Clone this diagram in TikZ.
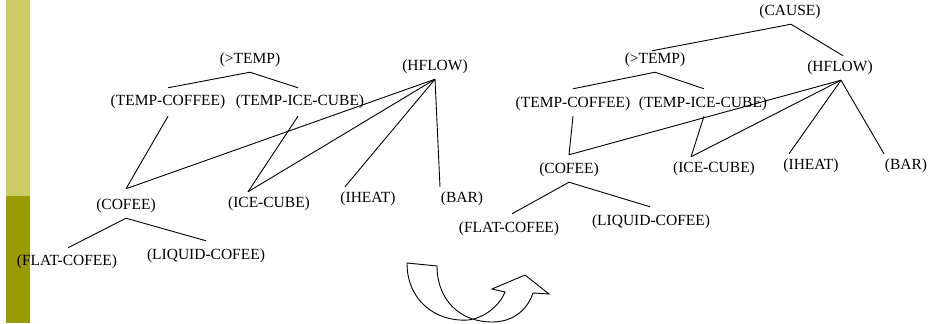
\documentclass[tikz,border=0pt]{standalone}
\usepackage{fontspec}
\setmainfont{Liberation Serif}
\begin{document}
\begin{tikzpicture}[x=1pt,y=-1pt,
  lbl/.style={inner xsep=0pt,inner ysep=5pt,font=\fontsize{15.5}{18}\selectfont},
  edge/.style={line width=0.9pt,black},
  ribbon/.style={line width=0.9pt,black,line join=miter}]
\useasboundingbox (0,0) rectangle (946,324);
\definecolor{barlight}{RGB}{204,204,102}
\definecolor{bardark}{RGB}{153,153,0}

% side bar
\fill[barlight] (6,0) rectangle (30,196);
\fill[bardark] (6,196) rectangle (30,323);

% ---------- first structure ----------
\node[lbl] (lt)  at (250,60)  {(>TEMP)};
\node[lbl] (ltc) at (168,102) {(TEMP-COFFEE)};
\node[lbl] (lti) at (300,102) {(TEMP-ICE-CUBE)};
\node[lbl] (lh)  at (435,67)  {(HFLOW)};
\node[lbl] (lc)  at (126,206) {(COFEE)};
\node[lbl] (li)  at (269,204) {(ICE-CUBE)};
\node[lbl] (lih) at (368,199) {(IHEAT)};
\node[lbl] (lb)  at (462,199) {(BAR)};
\node[lbl] (lf)  at (67,262)  {(FLAT-COFEE)};
\node[lbl] (ll)  at (206,256) {(LIQUID-COFEE)};

\draw[edge] ([yshift=2pt]ltc.north) -- (lt.south) -- ([xshift=-2pt,yshift=2pt]lti.north);
\draw[edge] ([yshift=-2pt]ltc.south) -- ([yshift=5pt]lc.north);
\draw[edge] ([xshift=-2pt,yshift=-2pt]lti.south) -- ([xshift=-21pt]li.north);
\draw[edge] ([yshift=5pt]lc.north) -- (lh.south);
\draw[edge] ([xshift=-21pt]li.north) -- (lh.south);
\draw[edge] ([xshift=-23pt]lih.north) -- (lh.south);
\draw[edge] ([xshift=-22pt]lb.north) -- (lh.south);
\draw[edge] ([xshift=1pt,yshift=2pt]lf.north) -- (lc.south) -- ([yshift=3pt]ll.north);

% ---------- second structure ----------
\node[lbl] (rca) at (790,12)  {(CAUSE)};
\node[lbl] (rt)  at (655,60)  {(>TEMP)};
\node[lbl] (rh)  at (840,68)  {(HFLOW)};
\node[lbl] (rtc) at (573,104) {(TEMP-COFFEE)};
\node[lbl] (rti) at (703,104) {(TEMP-ICE-CUBE)};
\node[lbl] (rc)  at (569,170) {(COFEE)};
\node[lbl] (ri)  at (714,169) {(ICE-CUBE)};
\node[lbl] (rih) at (811,166) {(IHEAT)};
\node[lbl] (rb)  at (906,166) {(BAR)};
\node[lbl] (rf)  at (509,229) {(FLAT-COFEE)};
\node[lbl] (rl)  at (651,222) {(LIQUID-COFEE)};

\draw[edge] ([xshift=-3pt,yshift=-3pt]rt.north) -- ([xshift=1pt]rca.south) -- ([xshift=3pt]rh.north);
\draw[edge] ([yshift=3pt]rtc.north) -- (rt.south) -- ([xshift=1pt,yshift=3pt]rti.north);
\draw[edge] (rtc.south) -- ([yshift=3pt]rc.north);
\draw[edge] ([xshift=1pt]rti.south) -- ([xshift=-23pt]ri.north);
\draw[edge] ([yshift=3pt]rc.north) -- ([xshift=1pt]rh.south);
\draw[edge] ([xshift=-23pt]ri.north) -- ([xshift=1pt]rh.south);
\draw[edge] ([xshift=-22pt]rih.north) -- ([xshift=1pt]rh.south);
\draw[edge] ([xshift=-22pt]rb.north) -- ([xshift=1pt]rh.south);
\draw[edge] ([xshift=3pt,yshift=3pt]rf.north) -- (rc.south) -- ([xshift=-1pt,yshift=3pt]rl.north);

% ---------- curved arrow ----------
\draw[ribbon] (407,263) -- (437,266)
  .. controls (437,300) and (460,322) .. (492,322)
  .. controls (515,322) and (528,308) .. (533,293)
  -- (549,294) -- (525,275) -- (492,289) -- (505,292)
  .. controls (500,305) and (485,318) .. (468,320)
  .. controls (435,322) and (407,300) .. (407,263) -- cycle;
\end{tikzpicture}
\end{document}
